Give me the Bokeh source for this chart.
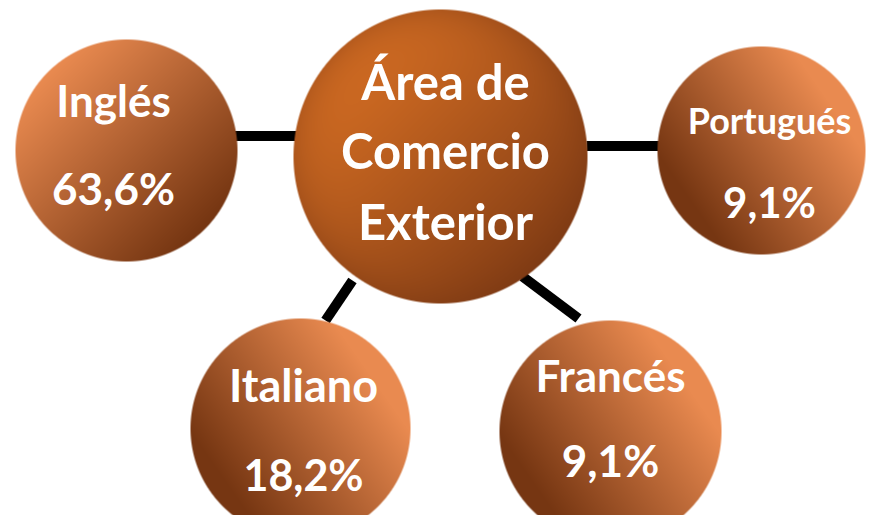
import numpy as np
from bokeh.plotting import figure
from bokeh.models import Range1d, ColumnDataSource
from bokeh.core.properties import value
from bokeh.embed import file_html
from bokeh.resources import INLINE

# ---------------- data ----------------
center_lines = ["Área de", "Comercio", "Exterior"]
languages = ["Inglés", "Italiano", "Francés", "Portugués"]
percentages = [63.6, 18.2, 9.1, 9.1]

# ---------------- layout (reference pixel coordinates) ----------------
REF_H = 531
PLOT_W, PLOT_H = 866, 515
BASE_SHIFT = 0.42  # fraction of font size: alphabetic-baseline correction

center_layout = dict(cx=440, cy=156, r=147, baselines=[101, 170, 241], size=49)
layout = {
    "Inglés":    dict(cx=126, cy=150, r=111, lx=113, ly=118, vx=113, vy=206, ls=44, vs=44, kind="diag",
                      link=((234, 135.5), (298, 135.5))),
    "Italiano":  dict(cx=300, cy=428, r=110, lx=303, ly=403, vx=303, vy=492, ls=45, vs=43, kind="side",
                      link=((352, 280), (325, 320))),
    "Francés":   dict(cx=610, cy=431, r=111, lx=610, ly=393, vx=610, vy=478, ls=44, vs=44, kind="side",
                      link=((522, 276), (578, 318))),
    "Portugués": dict(cx=761, cy=150, r=104, lx=769, ly=135, vx=769, vy=219, ls=36, vs=42, kind="side",
                      link=((586, 145.5), (660, 145.5))),
}

LIGHT = np.array([233, 138, 80], dtype=float)
DARK = np.array([118, 54, 18], dtype=float)
C_BRIGHT = np.array([216, 112, 36], dtype=float)
C_DARK = np.array([116, 52, 18], dtype=float)


def Y(py):
    return REF_H - py


p = figure(width=PLOT_W, height=PLOT_H, x_range=Range1d(0, PLOT_W), y_range=Range1d(Y(PLOT_H), Y(0)),
           output_backend="svg", toolbar_location=None, min_border=0,
           x_axis_type=None, y_axis_type=None)
p.grid.visible = False
p.outline_line_color = None
p.background_fill_color = "white"
p.border_fill_color = "white"

# connector lines (under circles)
x0s, y0s, x1s, y1s = [], [], [], []
for name in languages:
    (a, b), (c, d) = layout[name]["link"]
    x0s.append(a); y0s.append(Y(b)); x1s.append(c); y1s.append(Y(d))
p.segment(x0=x0s, y0=y0s, x1=x1s, y1=y1s, line_color="black", line_width=10, line_cap="butt")


def disc(cx, cy, r, kind):
    n = int(2 * r + 6)
    x0 = int(np.floor(cx - n / 2))
    y0 = int(np.floor(cy - n / 2))
    px = x0 + np.arange(n) + 0.5
    py = y0 + np.arange(n) + 0.5
    PX, PY = np.meshgrid(px, py)
    dist = np.hypot(PX - cx, PY - cy)
    alpha = np.clip(r - dist + 0.5, 0, 1)
    dx = (PX - cx) / r
    dy = (PY - cy) / r
    if kind == "diag":
        s = np.clip(0.5 + 0.36 * (dx + dy), 0, 1)[..., None]
        col = LIGHT * (1 - s) + DARK * s
    elif kind == "side":
        l = np.clip(0.52 + 0.5 * dx - 0.35 * dy, 0, 1)[..., None]
        col = DARK * (1 - l) + LIGHT * l
    else:
        rr = np.clip(dist / r, 0, 1)
        l = np.clip(0.6 - 0.3 * (dx + dy), 0, 1) * (1 - 0.35 * rr ** 6)
        l = l[..., None]
        col = C_DARK * (1 - l) + C_BRIGHT * l
    img = np.zeros((n, n), dtype=np.uint32)
    view = img.view(dtype=np.uint8).reshape((n, n, 4))
    view[..., 0] = col[..., 0].astype(np.uint8)
    view[..., 1] = col[..., 1].astype(np.uint8)
    view[..., 2] = col[..., 2].astype(np.uint8)
    view[..., 3] = (alpha * 255).astype(np.uint8)
    img = img[::-1]
    p.image_rgba(image=[img], x=x0, y=Y(y0 + n), dw=n, dh=n)


disc(center_layout["cx"], center_layout["cy"], center_layout["r"], "center")
for name in languages:
    L = layout[name]
    disc(L["cx"], L["cy"], L["r"], L["kind"])

# texts
tx, ty, tt, ts = [], [], [], []


def add_text(x, base, text, size):
    tx.append(x)
    ty.append(Y(base - BASE_SHIFT * size))
    tt.append(text)
    ts.append(f"{size}px")


for line, bl in zip(center_lines, center_layout["baselines"]):
    add_text(center_layout["cx"] + 5, bl, line, center_layout["size"])
for name, val in zip(languages, percentages):
    L = layout[name]
    add_text(L["lx"], L["ly"], name, L["ls"])
    add_text(L["vx"], L["vy"], f"{val:.1f}".replace(".", ",") + "%", L["vs"])

src = ColumnDataSource(dict(x=tx, y=ty, text=tt, size=ts))
p.text(x="x", y="y", text="text", source=src, text_font=value("Lato"), text_font_style="bold",
       text_font_size="size", text_color="white", text_align="center", text_baseline="alphabetic")

open("out.html", "w").write(file_html(p, INLINE))
